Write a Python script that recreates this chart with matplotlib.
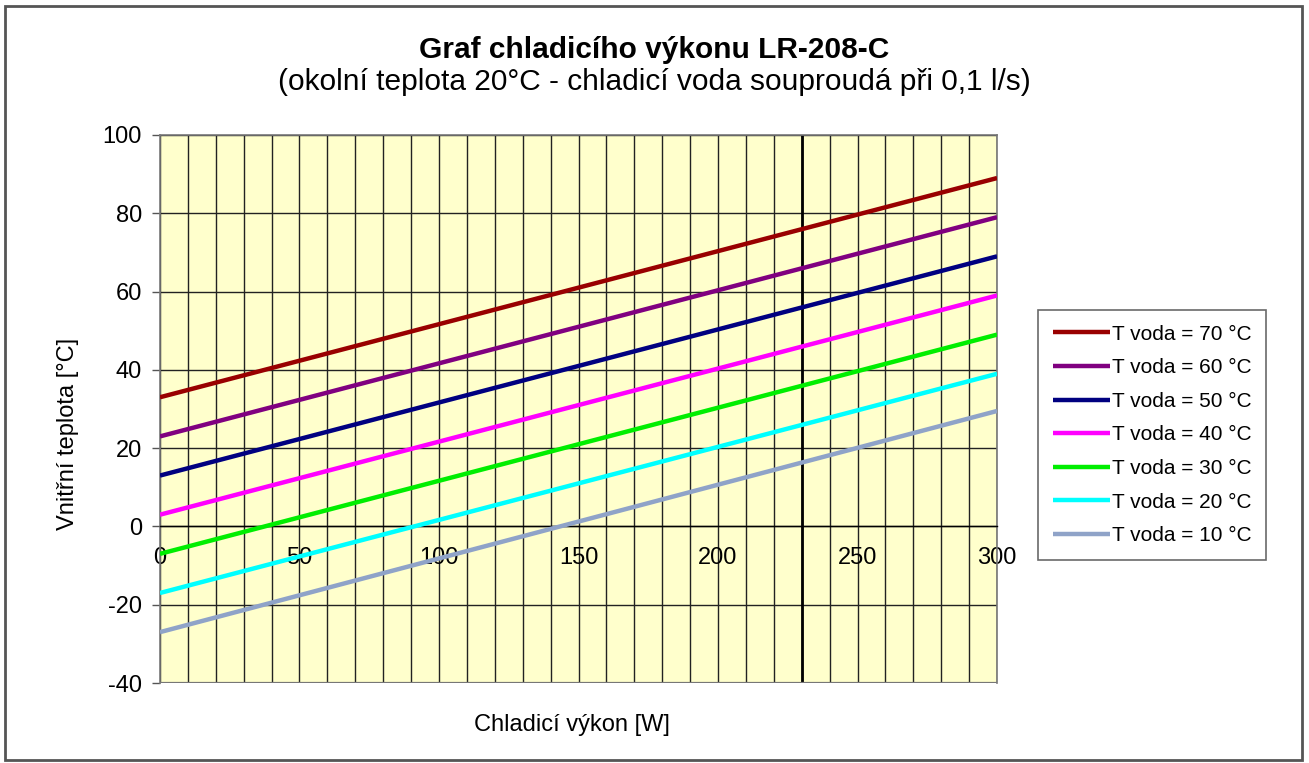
import matplotlib.pyplot as plt
import numpy as np
from matplotlib.patches import Rectangle

plt.rcParams["font.family"] = ["Liberation Sans", "DejaVu Sans"]
plt.rcParams["axes.unicode_minus"] = False

# cooling power [W] (end points of the straight lines)
power = [0, 300]
# internal temperature [°C] for each water temperature
water_temps = [70, 60, 50, 40, 30, 20, 10]
inner_temp = {
    70: [33, 89],
    60: [23, 79],
    50: [13, 69],
    40: [3, 59],
    30: [-7, 49],
    20: [-17, 39],
    10: [-27, 29.5],
}
marker_power = 230
x_ticks = [0, 50, 100, 150, 200, 250, 300]
y_ticks = [-40, -20, 0, 20, 40, 60, 80, 100]

COLORS = {
    70: "#990000",
    60: "#800080",
    50: "#000080",
    40: "#ff00ff",
    30: "#00ee00",
    20: "#00ffff",
    10: "#8fa3c8",
}

fig = plt.figure(figsize=(13.09, 7.63), dpi=100)
fig.patches.append(Rectangle((0.004, 0.004), 0.991, 0.988, transform=fig.transFigure,
                             fill=False, edgecolor="#555555", linewidth=2.0))
ax = fig.add_axes([0.1222, 0.1048, 0.6395, 0.7183])
ax.set_facecolor("#ffffcc")

for t in water_temps:
    ax.plot(power, inner_temp[t], color=COLORS[t], linewidth=3.2,
            solid_capstyle="butt", label=f"T voda = {t} °C", zorder=3)

ax.axvline(marker_power, color="black", linewidth=2.0, zorder=2)

ax.set_xlim(0, 300)
ax.set_ylim(-40, 100)
ax.set_xticks(x_ticks)
ax.set_xticks(np.arange(0, 301, 10), minor=True)
ax.set_yticks(y_ticks)
ax.grid(True, which="both", axis="x", color="#222222", linewidth=1.0, zorder=1)
ax.grid(True, which="major", axis="y", color="#222222", linewidth=1.0, zorder=1)
ax.set_axisbelow(True)

for side in ["top", "left", "right"]:
    ax.spines[side].set_color("#777777")
    ax.spines[side].set_linewidth(1.2)
ax.spines["bottom"].set_position(("data", 0))
ax.spines["bottom"].set_color("black")
ax.spines["bottom"].set_linewidth(1.0)
ax.axhline(-40, color="#777777", linewidth=1.6, zorder=4)

ax.tick_params(axis="x", which="both", length=0, pad=15, labelsize=17)
ax.tick_params(axis="y", length=6, width=1, color="#555555", pad=7, labelsize=17)

ax.set_ylabel("Vnitřní teplota [°C]", fontsize=17)
ax.yaxis.set_label_coords(-0.097, 0.455)
ax.set_xlabel("Chladicí výkon [W]", fontsize=17)
ax.xaxis.set_label_coords(0.492, -0.057)

fig.text(0.5, 0.935, "Graf chladicího výkonu LR-208-C", ha="center", va="center",
         fontsize=21.5, fontweight="bold")
fig.text(0.5, 0.892, "(okolní teplota 20°C - chladicí voda souproudá při 0,1 l/s)",
         ha="center", va="center", fontsize=21.5)

leg = ax.legend(loc="center left", bbox_to_anchor=(1.049, 0.4526), fontsize=15,
                frameon=True, fancybox=False, handlelength=2.75, handletextpad=0.1,
                labelspacing=0.7, borderpad=0.7, borderaxespad=0)
leg.get_frame().set_edgecolor("#444444")
leg.get_frame().set_linewidth(1.2)

fig.savefig("out.png")
